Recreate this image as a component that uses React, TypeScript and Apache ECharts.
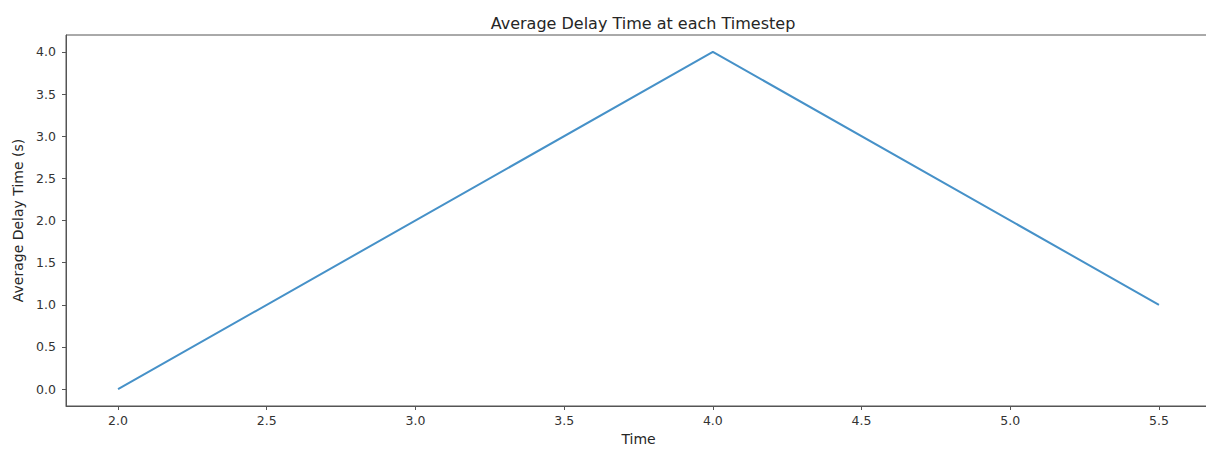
import React, { useEffect, useRef } from "react";
import * as echarts from "echarts";

const times = [2.0, 4.0, 5.5];
const delays = [0, 4, 1];
const xTicks = [2.0, 2.5, 3.0, 3.5, 4.0, 4.5, 5.0, 5.5];
const yTicks = [0.0, 0.5, 1.0, 1.5, 2.0, 2.5, 3.0, 3.5, 4.0];

const FONT = "DejaVu Sans";

export default function App() {
  const ref = useRef<HTMLDivElement>(null);
  useEffect(() => {
    document.body.style.margin = "0";
    document.body.style.overflow = "hidden";
    const chart = echarts.init(ref.current!, null, { renderer: "svg" });
    chart.setOption({
      animation: false,
      backgroundColor: "#ffffff",
      title: {
        text: "Average Delay Time at each Timestep",
        left: 638,
        top: 10,
        textAlign: "center",
        textStyle: { fontFamily: FONT, fontSize: 16, fontWeight: "normal", color: "#262626" },
      },
      grid: {
        left: 66,
        right: 1,
        top: 35,
        bottom: 42,
        show: true,
        borderColor: "#555",
        borderWidth: 1,
        backgroundColor: "transparent",
      },
      xAxis: {
        type: "value",
        min: 1.825,
        max: 5.675,
        name: "Time",
        nameLocation: "middle",
        nameGap: 26,
        nameTextStyle: { fontFamily: FONT, fontSize: 14, color: "#262626" },
        axisLine: { show: true, onZero: false, lineStyle: { color: "#555", width: 1 } },
        axisTick: { show: true, length: 4, lineStyle: { color: "#555" }, customValues: xTicks },
        axisLabel: {
          fontFamily: FONT,
          fontSize: 12.5,
          color: "#333",
          margin: 8,
          customValues: xTicks,
          formatter: (v: number) => v.toFixed(1),
        },
        splitLine: { show: false },
      },
      yAxis: {
        type: "value",
        min: -0.2,
        max: 4.2,
        name: "Average Delay Time (s)",
        nameLocation: "middle",
        nameGap: 36,
        nameTextStyle: { fontFamily: FONT, fontSize: 14, color: "#262626" },
        axisLine: { show: true, onZero: false, lineStyle: { color: "#555", width: 1 } },
        axisTick: { show: true, length: 4, lineStyle: { color: "#555" }, customValues: yTicks },
        axisLabel: {
          fontFamily: FONT,
          fontSize: 12.5,
          color: "#333",
          margin: 10,
          customValues: yTicks,
          formatter: (v: number) => v.toFixed(1),
        },
        splitLine: { show: false },
      },
      series: [
        {
          type: "line",
          data: times.map((t, i) => [t, delays[i]]),
          showSymbol: false,
          symbol: "none",
          lineStyle: { color: "#4691c8", width: 2 },
        },
      ],
    });
    return () => chart.dispose();
  }, []);
  return <div ref={ref} style={{ width: 1212, height: 451 }} />;
}
